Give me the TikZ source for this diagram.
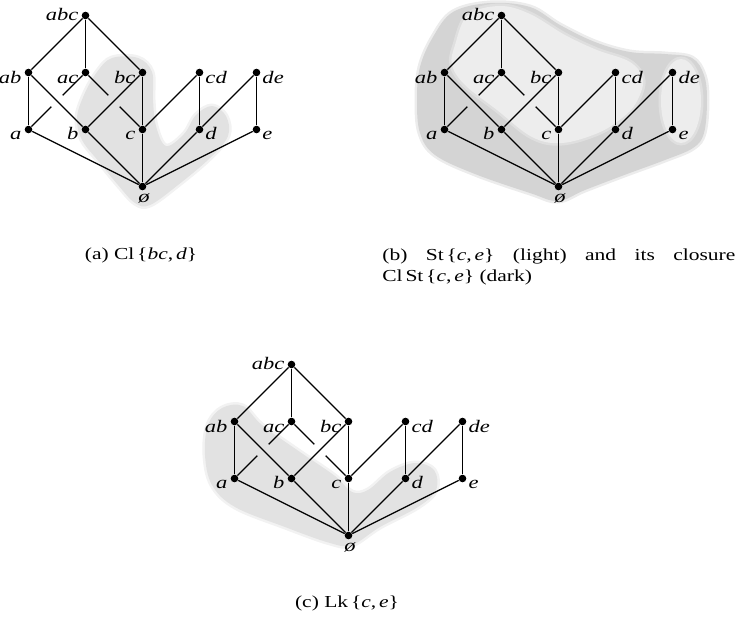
\documentclass[tikz,border=0pt]{standalone}
\usepackage{fontspec}
\setmainfont[FakeStretch=1.28]{Liberation Serif}
\usetikzlibrary{calc}
\definecolor{shA}{HTML}{E2E2E2}
\definecolor{shDark}{HTML}{D4D4D4}
\definecolor{shLight}{HTML}{EDEDED}
\tikzset{
  x=0.5pt, y=-0.5pt,
  dot/.style={circle, fill=black, inner sep=0pt, minimum size=3.8pt},
  edge/.style={line width=0.65pt},
  lbl/.style={inner sep=0pt, font=\fontsize{8.8}{10}\selectfont\itshape},
  lblL/.style={lbl, anchor=base east},
  lblR/.style={lbl, anchor=base west},
  lblB/.style={lbl, anchor=base},
  captxt/.style={inner sep=0pt, font=\fontsize{8.4}{10.5}\selectfont},
  softfill/.style={fill=#1, draw=#1, line width=2.5pt, draw opacity=0.45, line join=round}
}
\newcommand\lattice[3]{%
  \begin{scope}[shift={(#2,#3)}]
    \node[dot] (#1abc) at (57,0) {};
    \node[dot] (#1ab) at (0,57) {};
    \node[dot] (#1ac) at (57,57) {};
    \node[dot] (#1bc) at (114,57) {};
    \node[dot] (#1cd) at (171,57) {};
    \node[dot] (#1de) at (228,57) {};
    \node[dot] (#1a) at (0,114) {};
    \node[dot] (#1b) at (57,114) {};
    \node[dot] (#1c) at (114,114) {};
    \node[dot] (#1d) at (171,114) {};
    \node[dot] (#1e) at (228,114) {};
    \node[dot] (#1o) at (114,171) {};
  \end{scope}
  \draw[edge] (#1abc) -- (#1ab);
  \draw[edge] (#1abc) -- (#1ac);
  \draw[edge] (#1abc) -- (#1bc);
  \draw[edge] (#1ab) -- (#1a);
  \draw[edge] (#1ab) -- (#1b);
  \draw[edge] (#1ac) -- ($(#1ac)!0.4!(#1a)$) ($(#1ac)!0.6!(#1a)$) -- (#1a);
  \draw[edge] (#1ac) -- ($(#1ac)!0.4!(#1c)$) ($(#1ac)!0.6!(#1c)$) -- (#1c);
  \draw[edge] (#1bc) -- (#1b);
  \draw[edge] (#1bc) -- (#1c);
  \draw[edge] (#1cd) -- (#1c);
  \draw[edge] (#1cd) -- (#1d);
  \draw[edge] (#1de) -- (#1d);
  \draw[edge] (#1de) -- (#1e);
  \draw[edge] (#1a) -- (#1o);
  \draw[edge] (#1b) -- (#1o);
  \draw[edge] (#1c) -- (#1o);
  \draw[edge] (#1d) -- (#1o);
  \draw[edge] (#1e) -- (#1o);
  \node[lblL] (#1abc-t) at ([xshift=-3.4pt,yshift=-2.5pt]#1abc.center) {abc};
  \node[lblL] (#1ab-t) at ([xshift=-3.4pt,yshift=-5.3pt]#1ab.center) {ab};
  \node[lblL] (#1ac-t) at ([xshift=-3.4pt,yshift=-5.3pt]#1ac.center) {ac};
  \node[lblL] (#1bc-t) at ([xshift=-3.4pt,yshift=-5.3pt]#1bc.center) {bc};
  \node[lblR] (#1cd-t) at ([xshift=2.8pt,yshift=-5.3pt]#1cd.center) {cd};
  \node[lblR] (#1de-t) at ([xshift=2.8pt,yshift=-5.3pt]#1de.center) {de};
  \node[lblL] (#1a-t) at ([xshift=-3.4pt,yshift=-4.8pt]#1a.center) {a};
  \node[lblL] (#1b-t) at ([xshift=-3.4pt,yshift=-4.8pt]#1b.center) {b};
  \node[lblL] (#1c-t) at ([xshift=-3.4pt,yshift=-4.8pt]#1c.center) {c};
  \node[lblR] (#1d-t) at ([xshift=2.8pt,yshift=-4.8pt]#1d.center) {d};
  \node[lblR] (#1e-t) at ([xshift=2.8pt,yshift=-4.8pt]#1e.center) {e};
  \node[lblB] (#1o-t) at ([xshift=0.8pt,yshift=-7.8pt]#1o.center) {ø};
}
\begin{document}
\begin{tikzpicture}
\useasboundingbox (0,0) rectangle (741,617);
% ---- shading (a): Cl{bc,d}
\path[softfill=shA] plot[smooth cycle, tension=0.6] coordinates {
  (112,58) (138,58) (152,72) (153,100) (156,126) (166,146) (184,134) (196,115)
  (212,106) (226,116) (228,136) (210,158) (178,185) (150,205) (135,203)
  (118,185) (100,163) (82,140) (77,118) (84,95) (97,72)};
% ---- shading (b): closure (dark) and star (light)
\path[softfill=shDark] plot[smooth cycle, tension=0.6] coordinates {
  (417,100) (420,67) (433,37) (453,12) (490,3) (530,7) (560,25) (595,42)
  (630,52) (665,54) (692,58) (704,75) (707,100) (704,133) (693,148) (665,160)
  (627,174) (585,190) (558,201) (530,193) (475,174) (435,155) (420,133)};
\path[softfill=shLight] plot[smooth cycle, tension=0.6] coordinates {
  (455,45) (468,15) (500,6) (530,14) (565,35) (597,50) (630,62) (643,80)
  (636,103) (622,118) (598,133) (562,143) (532,137) (497,110) (465,85) (452,65)};
\path[softfill=shLight] (681,101) ellipse [x radius=20, y radius=42];
% ---- shading (c): Lk{c,e}
\path[softfill=shA] plot[smooth cycle, tension=0.6] coordinates {
  (222,408) (243,406) (262,425) (300,452) (335,476) (352,492) (368,490)
  (390,472) (415,463) (434,470) (436,490) (418,507) (380,527) (352,545)
  (330,543) (285,527) (235,507) (212,485) (205,455) (208,425)};
% ---- lattices
\lattice{A}{28.5}{15.5}
\lattice{B}{444.5}{15.5}
\lattice{C}{234.5}{364.5}
% ---- captions
\node[captxt, anchor=base] (capA) at (141,259) {(a) Cl\,\{\textit{bc},\,\textit{d}\}};
\node[captxt, anchor=north west, align=left] (capB) at (382,248)
  {\makebox[176.5pt][s]{(b) St\,\{\textit{c},\,\textit{e}\} (light) and its closure}\\
   Cl\,St\,\{\textit{c},\,\textit{e}\} (dark)};
\node[captxt, anchor=base] (capC) at (347,607) {(c) Lk\,\{\textit{c},\,\textit{e}\}};
\end{tikzpicture}
\end{document}
